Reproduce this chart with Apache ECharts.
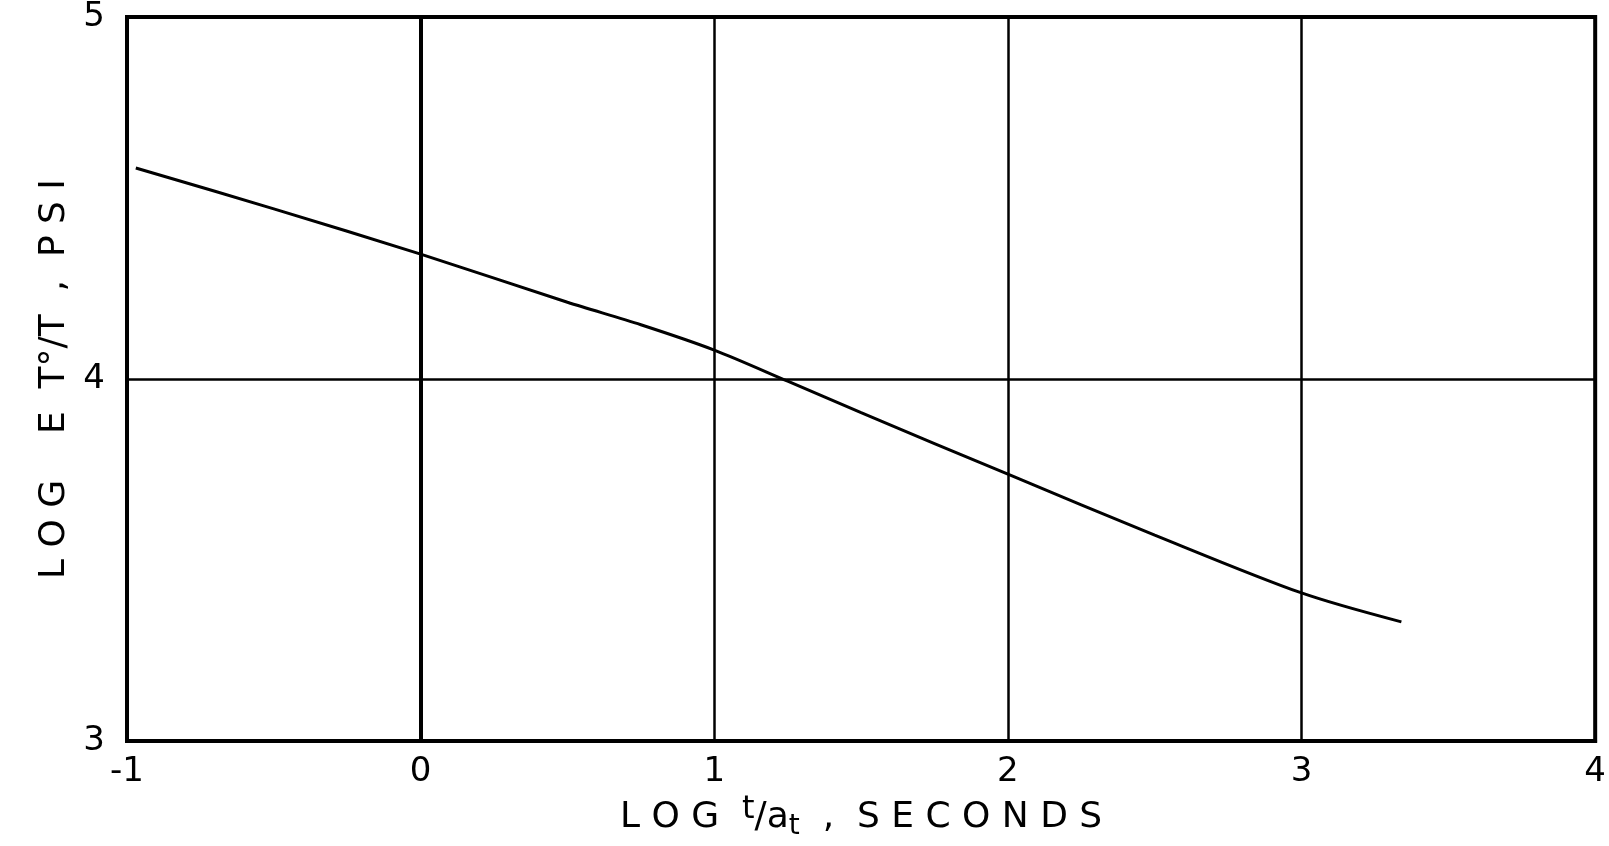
<!DOCTYPE html>
<html>
<head>
<meta charset="utf-8">
<script src="https://cdn.jsdelivr.net/npm/echarts@6/dist/echarts.min.js"></script>
<style>
  html, body { margin: 0; padding: 0; background: #fff; }
  #chart { width: 1609px; height: 846px; }
</style>
</head>
<body>
<div id="chart"></div>
<script>
// Data
const logTime = [-0.97, -0.5, 0, 0.5, 0.75, 1, 1.25, 1.5, 2, 2.5, 3, 3.34];
const logModulus = [4.583, 4.470, 4.345, 4.212, 4.150, 4.080, 3.994, 3.907, 3.737, 3.569, 3.409, 3.329];
const xTicks = [-1, 0, 1, 2, 3, 4];
const yTicks = [3, 4, 5];

const chart = echarts.init(document.getElementById('chart'));
const font = '"DejaVu Sans", sans-serif';

chart.setOption({
  animation: false,
  backgroundColor: '#ffffff',
  grid: {
    left: 127, right: 11, top: 17, bottom: 105,
    show: true, borderColor: '#000', borderWidth: 4, backgroundColor: 'transparent'
  },
  xAxis: {
    type: 'value',
    min: xTicks[0], max: xTicks[xTicks.length - 1], interval: 1,
    axisLine: { show: true, lineStyle: { color: '#000', width: 4 } },
    axisTick: { show: false },
    splitLine: { show: true, lineStyle: { color: '#000', width: 2.5 } },
    axisLabel: {
      color: '#000', fontFamily: font, fontSize: 34, margin: 14,
      formatter: v => (v === -1 ? '-1' : String(v))
    },
    name: '{n|L O G  }{sup|t}{n|/a}{sub|t}{n|  ,  S E C O N D S}',
    nameLocation: 'middle',
    nameGap: 48,
    nameTextStyle: {
      rich: {
        n: { fontFamily: font, fontSize: 36, color: '#000' },
        sup: { fontFamily: font, fontSize: 32, color: '#000', padding: [0, 0, 16, 0] },
        sub: { fontFamily: font, fontSize: 28, color: '#000', padding: [18, 0, 0, 0] }
      }
    }
  },
  yAxis: {
    type: 'value',
    min: yTicks[0], max: yTicks[yTicks.length - 1], interval: 1,
    axisLine: { show: true, lineStyle: { color: '#000', width: 4 } },
    axisTick: { show: false },
    splitLine: { show: true, lineStyle: { color: '#000', width: 2.5 } },
    axisLabel: { color: '#000', fontFamily: font, fontSize: 34, margin: 22 },
    name: 'L O G    E  T°/T  ,  P S I',
    nameLocation: 'middle',
    nameGap: 46,
    nameRotate: 90,
    nameTextStyle: { fontFamily: font, fontSize: 36, color: '#000' }
  },
  series: [{
    type: 'line',
    data: logTime.map((x, i) => [x, logModulus[i]]),
    smooth: 0.3,
    showSymbol: false,
    lineStyle: { color: '#000', width: 3 }
  }]
});
</script>
</body>
</html>
